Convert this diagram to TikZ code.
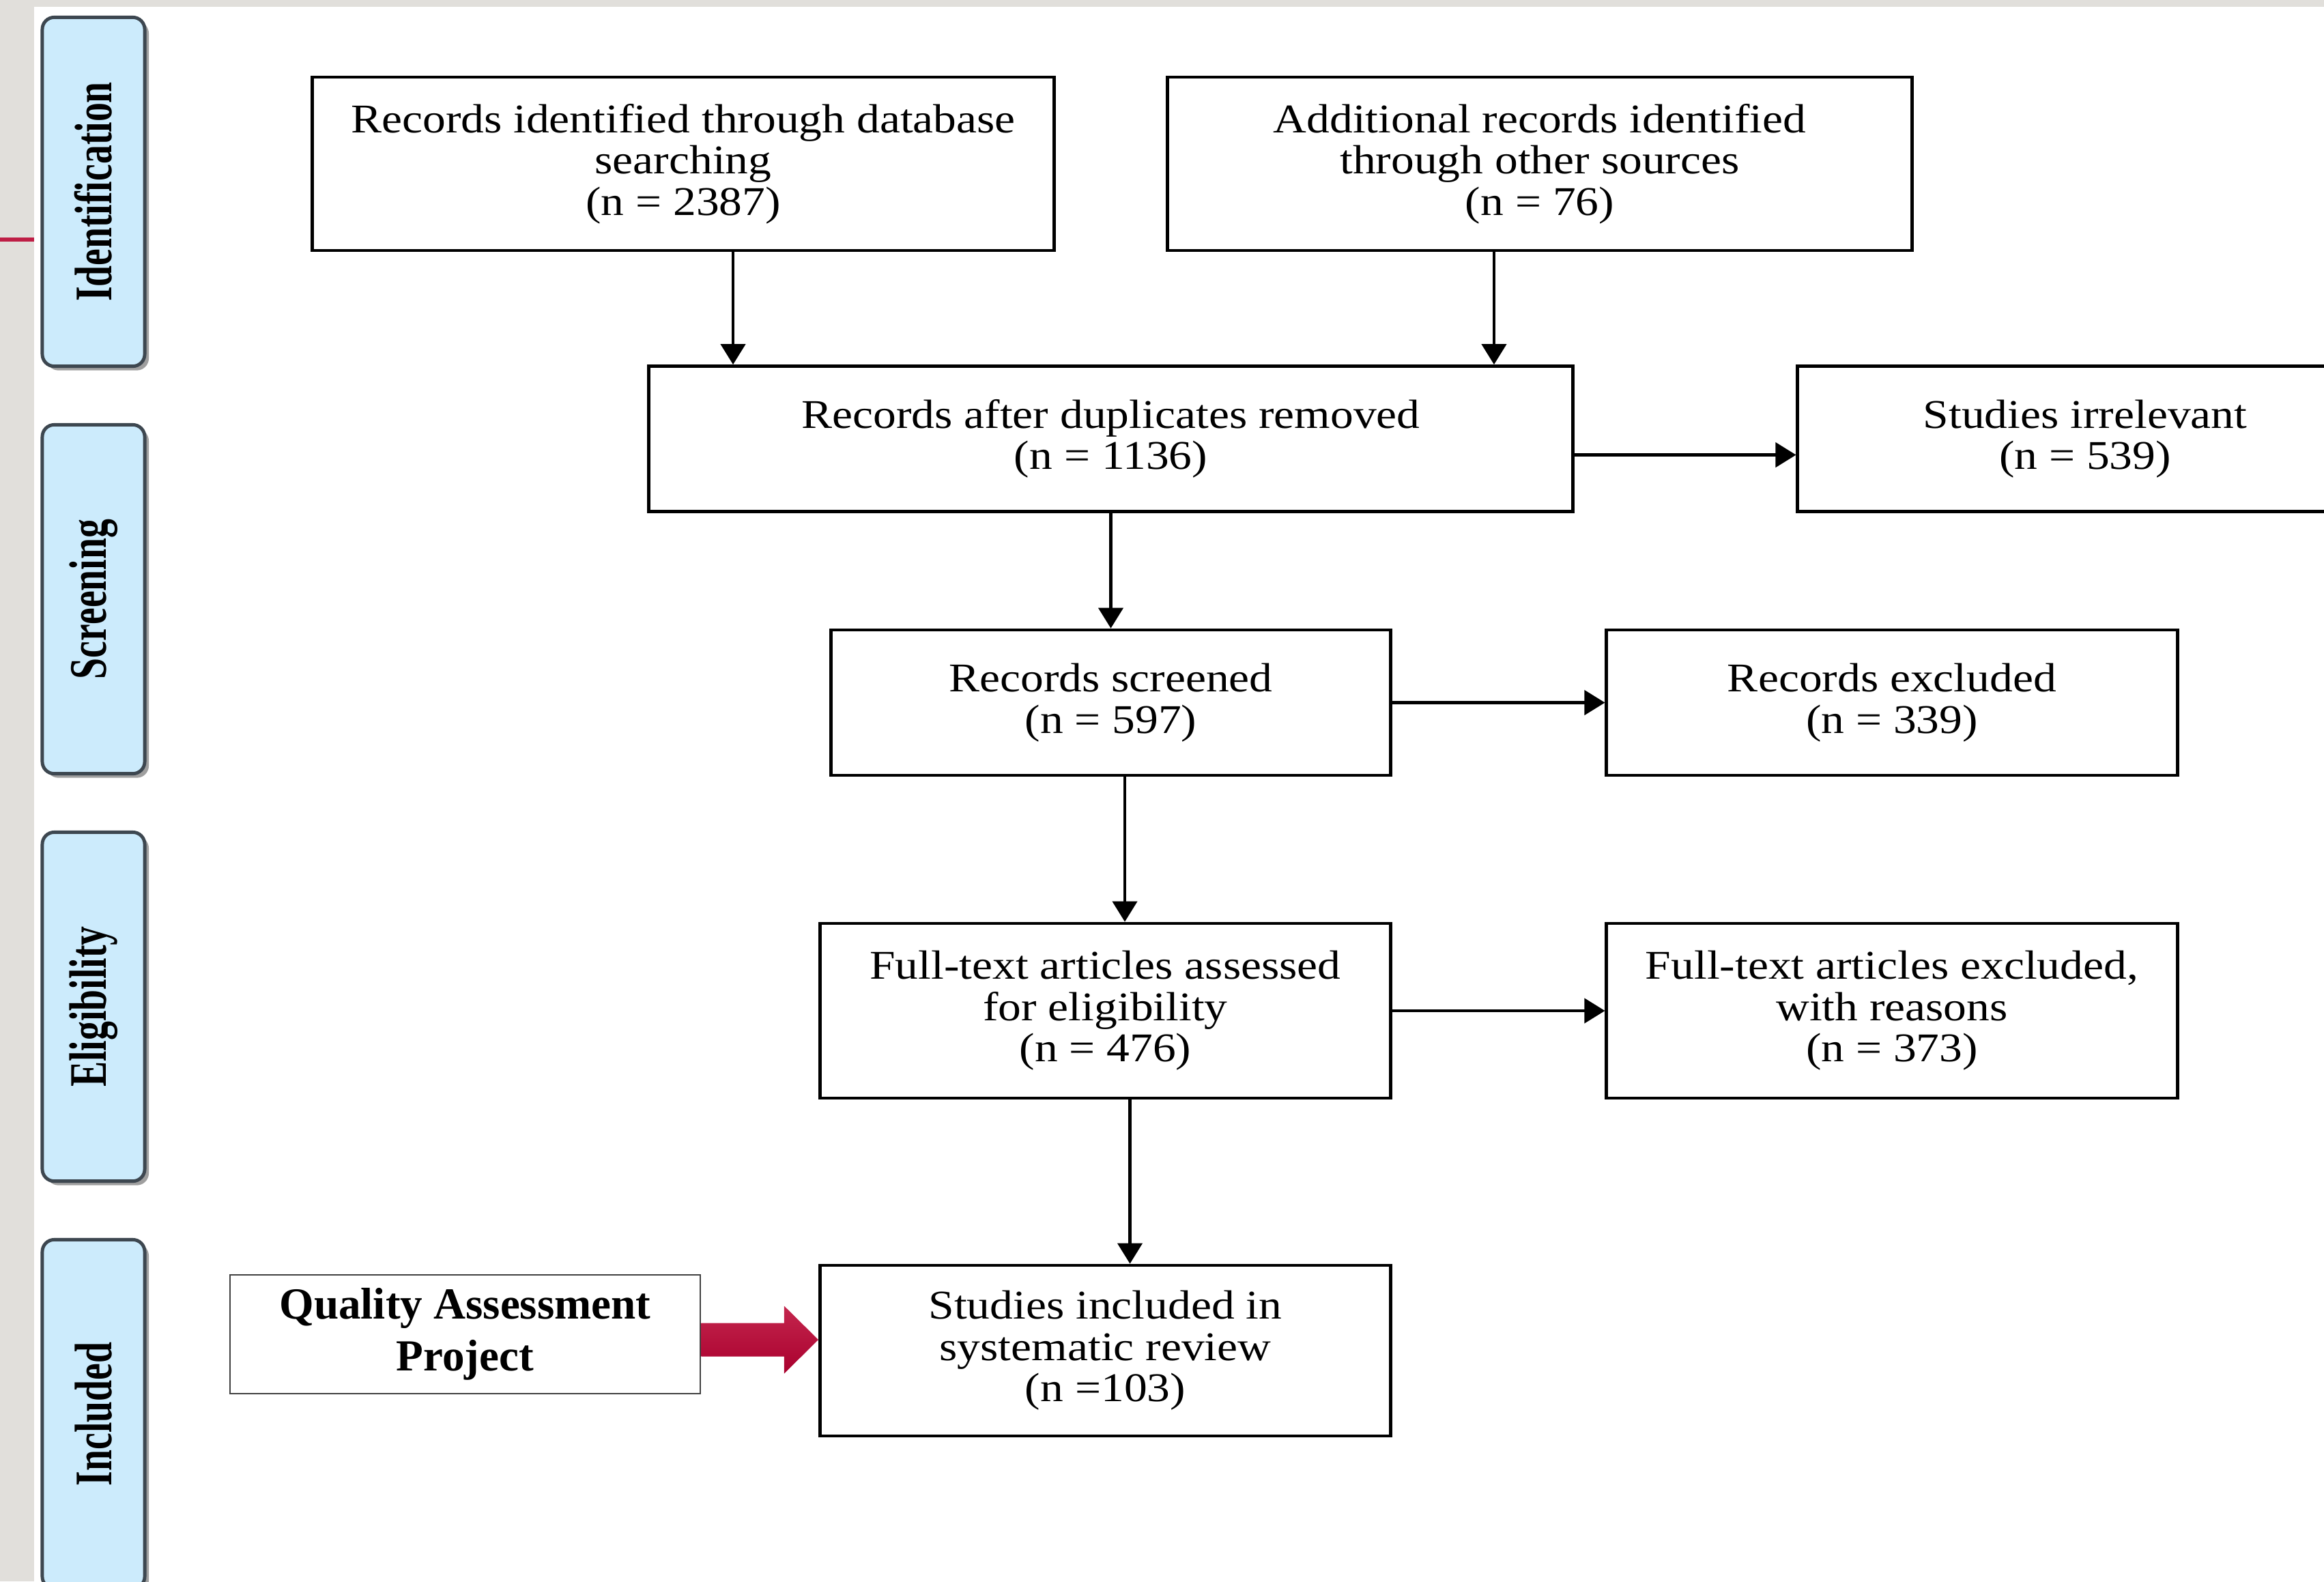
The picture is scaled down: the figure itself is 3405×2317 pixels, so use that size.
\documentclass[tikz,border=0pt]{standalone}
\usepackage{fontspec}
\setmainfont{Liberation Serif}
\newfontfamily\boxfont[FakeStretch=1.13]{Liberation Serif}
\newfontfamily\sidefont[FakeStretch=0.72]{Liberation Serif}
\usepackage{graphicx}
\usepackage{tikz}
\usetikzlibrary{arrows.meta,calc,shadows}
\definecolor{pagegrey}{HTML}{E1DFDB}
\definecolor{barblue}{HTML}{CCEBFC}
\definecolor{barline}{HTML}{3D4750}
\definecolor{crimson}{HTML}{BE1E45}
\definecolor{crimsonlt}{HTML}{C4264D}
\definecolor{crimsondk}{HTML}{A9002E}
\tikzset{
  rec/.style={rectangle, draw=black, fill=white, line width=1.3pt, align=center,
              inner sep=0pt, font=\boxfont\fontsize{17}{17.2}\selectfont},
  bar/.style={rectangle, rounded corners=5pt, draw=barline, fill=barblue,
              line width=1.4pt, inner sep=0pt, minimum width=1.5cm, minimum height=5.11cm,
              font=\sidefont\bfseries\fontsize{22}{22}\selectfont,
              drop shadow={shadow xshift=0.06cm, shadow yshift=-0.06cm, fill=gray!75, opacity=1}},
  qbox/.style={rectangle, draw=black!75, fill=white, line width=0.6pt, align=center,
              inner sep=0pt, font=\bfseries\fontsize{18.5}{21.6}\selectfont},
  ar/.style={-{Triangle[length=3mm,width=3.6mm]}, line width=1.2pt, draw=black},
}

\begin{document}
\begin{tikzpicture}[x=0.01cm, y=-0.01cm]
  \useasboundingbox (0,0) rectangle (3405,2317);
  \clip (0,0) rectangle (3405,2317);
  \fill[pagegrey] (0,0) rectangle (3405,2317);
  \fill[white] (50,10) rectangle (3405,2317);
  \fill[crimson] (0,348) rectangle (50,354);

  \node[bar] (idn) at (137,281) {\rotatebox{90}{Identification}};
  \node[bar] (scr) at (137,878) {\rotatebox{90}{Screening}};
  \node[bar] (elg) at (137,1475) {\rotatebox{90}{Eligibility}};
  \node[bar] (inc) at (137,2072) {\rotatebox{90}{Included}};

  \node[rec, minimum width=10.86cm, minimum height=2.54cm] (db) at (1001,240)
    {Records identified through database\\searching\\(n = 2387)};
  \node[rec, minimum width=10.90cm, minimum height=2.54cm] (oth) at (2256,240)
    {Additional records identified\\through other sources\\(n = 76)};
  \node[rec, minimum width=13.53cm, minimum height=2.13cm] (dup) at (1627.5,643)
    {Records after duplicates removed\\(n = 1136)};
  \node[rec, minimum width=8.42cm, minimum height=2.13cm] (irr) at (3055,643)
    {Studies irrelevant\\(n = 539)};
  \node[rec, minimum width=8.19cm, minimum height=2.13cm] (scrd) at (1627.5,1029.5)
    {Records screened\\(n = 597)};
  \node[rec, minimum width=8.36cm, minimum height=2.13cm] (exc) at (2772,1029.5)
    {Records excluded\\(n = 339)};
  \node[rec, minimum width=8.36cm, minimum height=2.56cm] (ft) at (1619.5,1481)
    {Full-text articles assessed\\for eligibility\\(n = 476)};
  \node[rec, minimum width=8.36cm, minimum height=2.56cm] (ftx) at (2772,1481)
    {Full-text articles excluded,\\with reasons\\(n = 373)};
  \node[rec, minimum width=8.36cm, minimum height=2.50cm] (incl) at (1619.5,1979)
    {Studies included in\\systematic review\\(n =103)};
  \node[qbox, minimum width=6.89cm, minimum height=1.74cm] (qap) at (681.5,1955)
    {Quality Assessment\\Project};

  \draw[ar] ([xshift=0.73cm]db.south) -- ([xshift=0.73cm]db.south |- dup.north);
  \draw[ar] ([xshift=-0.67cm]oth.south) -- ([xshift=-0.67cm]oth.south |- dup.north);
  \draw[ar] ([yshift=-0.235cm]dup.east) -- ([yshift=-0.235cm]dup.east -| irr.west);
  \draw[ar] (dup.south) -- (scrd.north);
  \draw[ar] (scrd.east) -- (exc.west);
  \draw[ar] ([xshift=0.205cm]scrd.south) -- ([xshift=0.205cm]scrd.south |- ft.north);
  \draw[ar] (ft.east) -- (ftx.west);
  \draw[ar] ([xshift=0.36cm]ft.south) -- ([xshift=0.36cm]ft.south |- incl.north);

  \coordinate (qa) at ($(qap.east)+(0,8)$);
  \coordinate (qt) at (incl.west |- qa);
  \path[top color=crimsonlt, bottom color=crimsondk]
    ($(qa)+(0,-24.5)$) -- ($(qt)+(-50,-24.5)$) -- ($(qt)+(-50,-49.5)$) -- (qt)
    -- ($(qt)+(-50,49.5)$) -- ($(qt)+(-50,24.5)$) -- ($(qa)+(0,24.5)$) -- cycle;
\end{tikzpicture}
\end{document}
